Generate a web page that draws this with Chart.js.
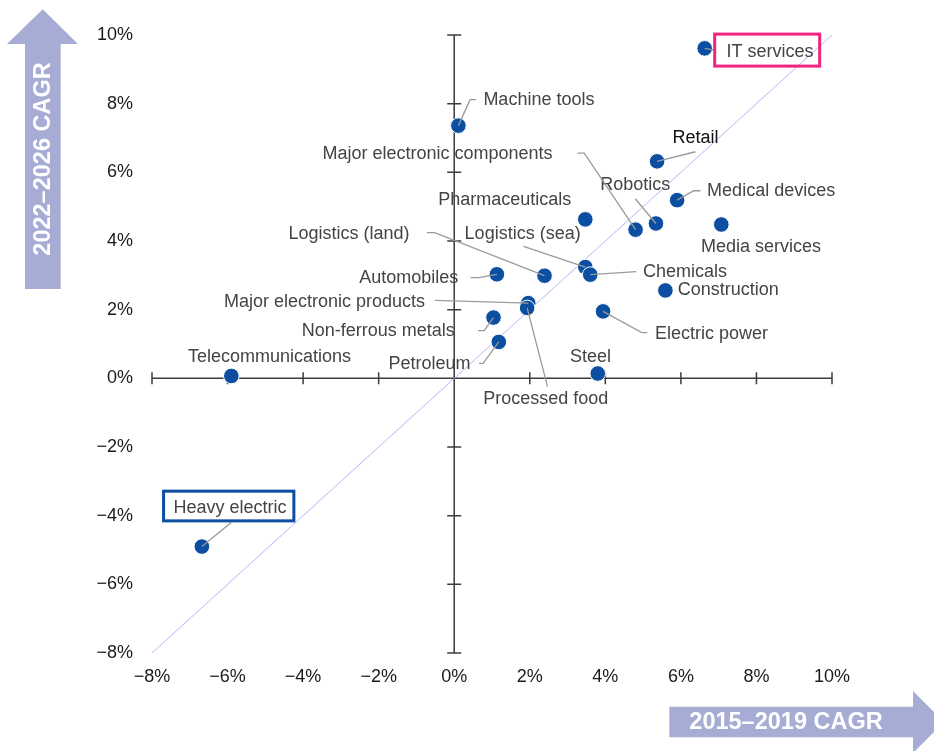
<!DOCTYPE html>
<html>
<head>
<meta charset="utf-8">
<script src="https://cdn.jsdelivr.net/npm/chart.js@4.4.1/dist/chart.umd.min.js"></script>
<style>
  html, body { margin: 0; padding: 0; background: #fff; }
  #wrap { width: 934px; height: 751px; position: relative; }
</style>
</head>
<body>
<div id="wrap"><canvas id="chart" width="934" height="751"></canvas></div>
<script>
'use strict';

// industries, CAGR 2015–2019 (x) vs 2022–2026 (y), in %
const industries = [
  'IT services', 'Machine tools', 'Retail', 'Medical devices', 'Robotics',
  'Major electronic components', 'Pharmaceuticals', 'Media services',
  'Logistics (sea)', 'Chemicals', 'Logistics (land)', 'Automobiles',
  'Construction', 'Major electronic products', 'Processed food',
  'Electric power', 'Non-ferrous metals', 'Petroleum', 'Steel',
  'Telecommunications', 'Heavy electric',
];
const cagr2015to2019 = [
  6.63, 0.11, 5.37, 5.90, 5.34, 4.80, 3.47, 7.07, 3.47, 3.60, 2.39,
  1.13, 5.59, 1.96, 1.93, 3.94, 1.04, 1.18, 3.80, -5.90, -6.68,
];
const cagr2022to2026 = [
  9.61, 7.36, 6.32, 5.19, 4.51, 4.33, 4.63, 4.48, 3.24, 3.02, 2.99,
  3.03, 2.56, 2.19, 2.05, 1.95, 1.77, 1.06, 0.14, 0.07, -4.90,
];
const axisMin = -8;
const axisMax = 10;
const tickStep = 2;
const xTitle = '2015–2019 CAGR';
const yTitle = '2022–2026 CAGR';

// label placement, offsets in px from the point (text anchor + leader polyline)
const labelLayout = {
  'IT services': { dx: 21.7, dy: 3.4, leader: [[11, 2]], box: [10, -14.3, 105, 32, '#f0237f'] },
  'Machine tools': { dx: 25, dy: -25.3, leader: [[11.7, -26], [17.7, -26]] },
  'Retail': { dx: 15.3, dy: -23, leader: [[38.3, -9.6]], color: '#111' },
  'Medical devices': { dx: 30, dy: -8.7, leader: [[16.6, -9.4], [23.3, -9.4]] },
  'Robotics': { dx: -55.7, dy: -38.7, leader: [[-20.7, -24.7]] },
  'Major electronic components': { dx: -83, dy: -76, align: 'right', leader: [[-51.3, -76.6], [-58, -76.6]] },
  'Pharmaceuticals': { dx: -14, dy: -19, align: 'right' },
  'Media services': { dx: -20.4, dy: 22.7 },
  'Logistics (sea)': { dx: -120.7, dy: -32.7, leader: [[-61.7, -20.7]] },
  'Chemicals': { dx: 52.7, dy: -2.3, leader: [[46, -3]] },
  'Logistics (land)': { dx: -135, dy: -41.3, align: 'right', leader: [[-110, -43], [-117.6, -43]] },
  'Automobiles': { dx: -38.7, dy: 3.6, align: 'right', leader: [[-18, 3.3], [-26.3, 3.3]] },
  'Construction': { dx: 12.3, dy: 0 },
  'Major electronic products': { dx: -103.3, dy: -1, align: 'right', leader: [[-93.3, -2.7]] },
  'Processed food': { dx: -44, dy: 91, leader: [[20.4, 78.7]] },
  'Electric power': { dx: 52, dy: 22.3, leader: [[38.7, 21.3], [44.3, 21.3]] },
  'Non-ferrous metals': { dx: -38.7, dy: 13.7, align: 'right', leader: [[-9.4, 13], [-15.4, 13]] },
  'Petroleum': { dx: -28.3, dy: 22, align: 'right', leader: [[-15.7, 21.4], [-19.7, 21.4]] },
  'Steel': { dx: -27.7, dy: -16.7 },
  'Telecommunications': { dx: -43.4, dy: -18.6 },
  'Heavy electric': { dx: -28.3, dy: -38.4, leader: [[29.4, -24]], box: [-38.3, -55.4, 130.3, 29.7, '#0b4ea2'] },
};

const FONT = '"Liberation Sans", Arial, sans-serif';
const pointColor = '#0b4ea2';
const arrowColor = '#a6acd4';

const fmtPct = v => (v < 0 ? '\u2212' + Math.abs(v) : v) + '%';

const crossAxes = {
  id: 'crossAxes',
  beforeDatasetsDraw(chart) {
    const { ctx, scales: { x, y } } = chart;
    const x0 = x.getPixelForValue(0);
    const y0 = y.getPixelForValue(0);
    ctx.save();
    ctx.strokeStyle = '#3c3c3c';
    ctx.lineWidth = 1.5;
    ctx.beginPath();
    ctx.moveTo(x.getPixelForValue(axisMin), y0);
    ctx.lineTo(x.getPixelForValue(axisMax), y0);
    ctx.moveTo(x0, y.getPixelForValue(axisMin));
    ctx.lineTo(x0, y.getPixelForValue(axisMax));
    for (let v = axisMin; v <= axisMax; v += tickStep) {
      if (v === 0) continue;
      const px = x.getPixelForValue(v);
      ctx.moveTo(px, y0 - 6);
      ctx.lineTo(px, y0 + 6);
      const py = y.getPixelForValue(v);
      ctx.moveTo(x0 - 7, py);
      ctx.lineTo(x0 + 7, py);
    }
    ctx.stroke();
    ctx.restore();
  },
};

const pointLabels = {
  id: 'pointLabels',
  afterDatasetsDraw(chart) {
    const { ctx, scales: { x, y } } = chart;
    ctx.save();
    ctx.font = `18px ${FONT}`;
    ctx.textBaseline = 'middle';
    industries.forEach((name, i) => {
      const lay = labelLayout[name];
      if (!lay) return;
      const px = x.getPixelForValue(cagr2015to2019[i]);
      const py = y.getPixelForValue(cagr2022to2026[i]);
      if (lay.leader) {
        ctx.strokeStyle = '#9a9a9a';
        ctx.lineWidth = 1.3;
        ctx.beginPath();
        ctx.moveTo(px, py);
        lay.leader.forEach(([lx, ly]) => ctx.lineTo(px + lx, py + ly));
        ctx.stroke();
      }
      if (lay.box) {
        const [bx, by, bw, bh, bc] = lay.box;
        ctx.strokeStyle = bc;
        ctx.lineWidth = 3;
        ctx.strokeRect(px + bx, py + by, bw, bh);
      }
      ctx.fillStyle = lay.color || '#444';
      ctx.textAlign = lay.align || 'left';
      ctx.fillText(name, px + lay.dx, py + lay.dy);
    });
    ctx.restore();
  },
};

const arrows = {
  id: 'arrows',
  afterDraw(chart) {
    const { ctx } = chart;
    ctx.save();
    ctx.fillStyle = arrowColor;
    // vertical arrow (y title)
    ctx.beginPath();
    ctx.moveTo(42.7, 9.3);
    ctx.lineTo(78, 44);
    ctx.lineTo(60.7, 44);
    ctx.lineTo(60.7, 289);
    ctx.lineTo(25, 289);
    ctx.lineTo(25, 44);
    ctx.lineTo(7, 44);
    ctx.closePath();
    ctx.fill();
    // horizontal arrow (x title)
    ctx.beginPath();
    ctx.moveTo(669.3, 706.7);
    ctx.lineTo(913, 706.7);
    ctx.lineTo(913, 691);
    ctx.lineTo(944, 722);
    ctx.lineTo(913, 753);
    ctx.lineTo(913, 737.3);
    ctx.lineTo(669.3, 737.3);
    ctx.closePath();
    ctx.fill();

    ctx.fillStyle = '#fff';
    ctx.font = `bold 23.5px ${FONT}`;
    ctx.textAlign = 'center';
    ctx.textBaseline = 'middle';
    ctx.fillText(xTitle, 786, 723);
    ctx.translate(43, 159);
    ctx.rotate(-Math.PI / 2);
    ctx.fillText(yTitle, 0, 1);
    ctx.restore();
  },
};

const points = industries.map((name, i) => ({ x: cagr2015to2019[i], y: cagr2022to2026[i] }));

new Chart(document.getElementById('chart'), {
  type: 'scatter',
  data: {
    datasets: [
      {
        label: 'Industries',
        data: points,
        backgroundColor: pointColor,
        borderColor: '#fff',
        borderWidth: 1,
        pointRadius: 7.8,
        order: 1,
      },
      {
        type: 'line',
        label: 'Parity',
        data: [{ x: axisMin, y: axisMin }, { x: axisMax, y: axisMax }],
        borderColor: '#b6b6f4',
        borderWidth: 1,
        pointRadius: 0,
        fill: false,
        order: 2,
      },
    ],
  },
  options: {
    responsive: false,
    animation: false,
    layout: { padding: { top: 35, right: 102, left: 0, bottom: 0 } },
    scales: {
      x: {
        type: 'linear',
        min: axisMin,
        max: axisMax,
        grid: { display: false, drawTicks: false },
        border: { display: false },
        ticks: {
          stepSize: tickStep,
          padding: 13,
          color: '#1a1a1a',
          font: { family: FONT, size: 18 },
          callback: fmtPct,
          maxRotation: 0,
        },
        afterFit(scale) { scale.height = 98; },
      },
      y: {
        type: 'linear',
        min: axisMin,
        max: axisMax,
        grid: { display: false, drawTicks: false },
        border: { display: false },
        ticks: {
          stepSize: tickStep,
          padding: 19,
          color: '#1a1a1a',
          font: { family: FONT, size: 18 },
          callback: fmtPct,
        },
        afterFit(scale) { scale.width = 152; },
      },
    },
    plugins: {
      legend: { display: false },
      tooltip: { enabled: false },
    },
  },
  plugins: [crossAxes, pointLabels, arrows],
});
</script>
</body>
</html>
